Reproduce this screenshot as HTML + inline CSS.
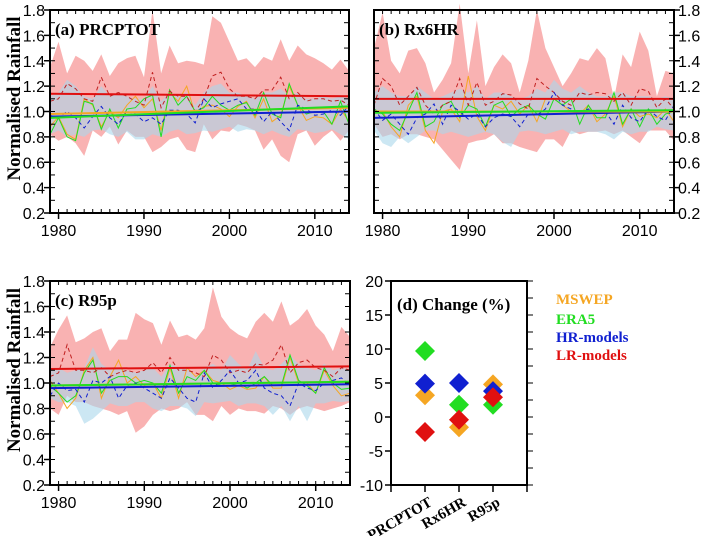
<!DOCTYPE html>
<html><head><meta charset="utf-8">
<style>
html,body{margin:0;padding:0;background:#fff;}
svg{display:block;}
.tk{font-family:"Liberation Sans",sans-serif;font-size:16px;fill:#000;}
.tt{font-family:"Liberation Serif",serif;font-weight:bold;font-size:17px;fill:#000;}
</style></head>
<body>
<svg id="chart" width="707" height="536" viewBox="0 0 707 536" xmlns="http://www.w3.org/2000/svg"></svg>
<script>
const years = [1979,1980,1981,1982,1983,1984,1985,1986,1987,1988,1989,1990,1991,1992,1993,1994,1995,1996,1997,1998,1999,2000,2001,2002,2003,2004,2005,2006,2007,2008,2009,2010,2011,2012,2013,2014];
const yTicks = [0.2,0.4,0.6,0.8,1.0,1.2,1.4,1.6,1.8];
const xTicks = [1980,1990,2000,2010];

// Panel a
const aRedUp = [1.35,1.55,1.30,1.44,1.40,1.32,1.45,1.28,1.38,1.42,1.44,1.27,1.80,1.30,1.52,1.38,1.40,1.39,1.37,1.75,1.70,1.55,1.40,1.42,1.35,1.43,1.40,1.57,1.40,1.52,1.45,1.42,1.38,1.33,1.41,1.32];
const aRedLo = [0.82,0.77,0.80,0.75,0.65,0.85,0.80,0.88,0.74,0.85,0.80,0.80,0.68,0.72,0.78,0.80,0.70,0.68,0.90,0.78,0.85,0.84,0.90,0.88,0.85,0.70,0.78,0.65,0.60,0.82,0.85,0.73,0.80,0.85,0.77,0.85];
const aBlueUp = [1.12,1.15,1.25,1.20,1.12,1.10,1.20,1.12,1.15,1.12,1.10,1.10,1.20,1.08,1.15,1.12,1.15,1.05,1.15,1.20,1.22,1.15,1.15,1.12,1.10,1.15,1.15,1.18,1.12,1.15,1.10,1.10,1.12,1.10,1.12,1.10];
const aBlueLo = [0.82,0.85,0.80,0.82,0.80,0.85,0.86,0.82,0.80,0.84,0.78,0.78,0.82,0.80,0.84,0.86,0.82,0.83,0.85,0.84,0.86,0.88,0.84,0.86,0.85,0.82,0.85,0.82,0.80,0.86,0.85,0.83,0.84,0.86,0.82,0.78];
const aRedDash = [1.08,1.10,1.22,1.18,1.10,1.08,1.27,1.12,1.15,1.12,1.08,1.05,1.31,1.03,1.16,1.12,1.12,1.00,1.10,1.28,1.31,1.18,1.12,1.12,1.10,1.17,1.17,1.27,1.10,1.15,1.08,1.10,1.10,1.08,1.09,1.05];
const aBlueDash = [0.97,0.95,1.00,0.95,0.87,0.96,1.04,0.95,0.90,1.00,0.98,0.92,0.95,0.90,1.01,1.01,0.98,0.91,1.10,1.03,1.06,1.08,1.10,1.02,1.02,0.92,1.00,0.92,0.85,1.05,1.02,0.97,0.98,1.01,0.97,1.05];
const aOrange = [0.88,0.96,0.82,0.78,1.10,1.05,0.88,1.00,0.95,1.05,1.12,1.03,1.10,0.85,1.15,1.08,1.20,0.98,1.04,1.05,1.02,0.96,1.04,1.08,0.95,1.10,0.92,0.97,1.20,1.05,0.93,0.96,0.95,0.90,1.02,0.92];
const aGreen = [0.82,0.95,0.80,0.77,1.08,1.06,0.86,1.02,0.87,1.02,1.03,1.10,1.13,0.80,1.17,1.05,1.12,1.00,1.03,1.12,1.05,1.01,1.05,1.07,0.97,1.15,0.98,0.95,1.22,1.05,0.98,1.00,1.00,0.90,1.08,0.90];
const aTrends = [[1.14,1.12],[0.96,1.00],[0.98,1.03],[0.95,1.04]];

// Panel b
const bRedUp = [1.50,1.78,1.40,1.30,1.48,1.50,1.38,1.15,1.25,1.38,1.85,1.30,1.72,1.20,1.35,1.45,1.38,1.15,1.40,1.80,1.50,1.35,1.20,1.30,1.42,1.40,1.50,1.42,1.10,1.45,1.35,1.63,1.48,1.12,1.32,1.30];
const bRedLo = [0.90,0.80,0.82,0.78,0.82,0.82,0.80,0.78,0.70,0.62,0.54,0.75,0.77,0.78,0.82,0.75,0.75,0.72,0.70,0.68,0.78,0.78,0.72,0.85,0.82,0.84,0.84,0.85,0.82,0.85,0.80,0.75,0.85,0.85,0.85,0.77];
const bBlueUp = [1.15,1.20,1.15,1.12,1.12,1.20,1.15,1.10,1.12,1.15,1.18,1.15,1.20,1.10,1.15,1.15,1.12,1.10,1.12,1.18,1.15,1.25,1.18,1.15,1.20,1.15,1.12,1.12,1.15,1.15,1.12,1.12,1.12,1.10,1.12,1.10];
const bBlueLo = [0.85,0.75,0.72,0.80,0.75,0.80,0.85,0.85,0.82,0.84,0.82,0.80,0.82,0.84,0.82,0.76,0.72,0.84,0.85,0.84,0.82,0.84,0.86,0.82,0.84,0.84,0.84,0.82,0.78,0.84,0.82,0.84,0.84,0.88,0.86,0.85];
const bRedDash = [1.05,1.26,1.20,1.05,1.12,1.19,1.05,0.98,1.05,1.08,1.26,1.05,1.23,1.05,1.08,1.14,1.13,1.06,1.02,1.26,1.20,1.15,1.08,1.05,1.15,1.13,1.15,1.14,1.08,1.15,1.05,1.18,1.16,1.03,1.10,1.02];
const bBlueDash = [1.02,0.93,0.98,0.90,0.82,0.95,0.98,1.06,0.90,1.05,1.00,0.94,0.98,0.88,0.95,0.98,0.96,0.88,0.98,0.97,1.02,1.15,1.05,1.02,0.98,1.02,0.98,1.00,0.90,1.05,0.95,0.92,1.02,0.96,0.93,1.05];
const bOrange = [1.00,1.00,0.88,0.80,1.05,1.12,0.85,0.75,1.00,1.02,0.92,1.28,0.96,0.85,1.05,1.02,1.08,0.98,1.05,0.92,1.10,1.10,1.05,1.00,0.98,1.05,0.92,0.98,1.12,0.88,1.02,0.96,0.98,0.95,1.02,0.92];
const bGreen = [1.02,0.98,0.90,0.85,1.00,1.15,0.88,0.92,1.05,1.08,0.95,1.05,1.02,0.88,1.05,1.08,0.96,1.02,1.05,0.98,0.94,1.10,1.05,1.10,0.90,1.05,0.95,0.95,1.15,0.90,1.02,0.88,1.02,0.90,0.98,1.00];
const bTrends = [[1.10,1.10],[0.95,1.00],[1.00,1.00],[0.99,1.01]];

// Panel c
const cRedUp = [1.28,1.42,1.53,1.32,1.35,1.40,1.43,1.25,1.34,1.34,1.55,1.50,1.47,1.30,1.49,1.36,1.38,1.34,1.43,1.75,1.52,1.43,1.38,1.35,1.48,1.55,1.48,1.64,1.45,1.50,1.58,1.45,1.38,1.25,1.44,1.36];
const cRedLo = [0.80,0.75,0.90,0.85,0.85,0.82,0.80,0.78,0.75,0.78,0.61,0.66,0.75,0.80,0.78,0.80,0.85,0.75,0.75,0.70,0.82,0.75,0.80,0.78,0.78,0.76,0.82,0.80,0.75,0.80,0.82,0.80,0.78,0.80,0.82,0.85];
const cBlueUp = [1.10,1.12,1.08,1.10,1.12,1.28,1.15,1.10,1.12,1.10,1.08,1.10,1.12,1.05,1.15,1.12,1.12,1.05,1.12,1.15,1.10,1.22,1.15,1.10,1.25,1.12,1.10,1.15,1.22,1.15,1.12,1.10,1.15,1.10,1.12,1.10];
const cBlueLo = [0.88,0.85,0.85,0.82,0.68,0.72,0.78,0.84,0.82,0.82,0.85,0.85,0.80,0.78,0.82,0.82,0.80,0.74,0.85,0.84,0.85,0.86,0.82,0.84,0.84,0.82,0.75,0.82,0.70,0.82,0.70,0.84,0.84,0.86,0.85,0.86];
const cRedDash = [1.05,1.08,1.30,1.10,1.10,1.08,1.12,1.05,1.08,1.10,1.08,1.10,1.16,1.08,1.20,1.10,1.10,1.08,1.05,1.22,1.18,1.08,1.10,1.08,1.15,1.14,1.18,1.30,1.08,1.16,1.18,1.12,1.10,1.05,1.12,1.10];
const cBlueDash = [0.90,1.00,0.94,0.95,0.85,1.02,1.00,1.05,0.88,0.98,1.00,0.96,0.92,0.88,1.04,0.96,0.88,0.85,1.08,0.96,1.02,1.10,1.00,1.02,1.10,0.96,0.92,0.90,0.82,1.00,0.96,0.94,1.00,1.02,1.04,0.98];
const cOrange = [1.02,0.92,0.80,0.88,1.10,1.20,0.88,1.05,1.18,1.00,1.05,0.98,1.00,0.88,1.12,0.88,1.12,1.05,1.10,1.02,1.00,0.95,0.98,0.95,0.96,1.05,0.96,0.96,1.20,1.00,1.00,0.92,1.10,0.98,0.90,0.92];
const cGreen = [0.98,0.92,0.85,0.90,1.08,1.18,0.92,1.02,1.05,1.05,1.00,1.02,1.00,0.92,1.14,0.92,1.05,1.02,1.10,1.00,0.98,0.98,1.00,0.96,1.00,1.05,0.98,0.98,1.22,1.02,0.98,0.92,1.12,1.00,0.95,0.96];
const cTrends = [[1.11,1.13],[0.96,0.99],[0.98,1.01],[0.98,1.01]];

// Panel d
const dCategories = ["PRCPTOT","Rx6HR","R95p"];
const dSeriesNames = ["MSWEP","ERA5","HR-models","LR-models"];
const dMSWEP = [3.2,-1.5,4.8];
const dERA5 = [9.7,1.8,1.8];
const dHR = [4.9,5.0,3.8];
const dLR = [-2.2,-0.4,2.9];
const dYTicks = [-10,-5,0,5,10,15,20];

const NS = "http://www.w3.org/2000/svg";
const svg = document.getElementById("chart");
function mk(tag, attrs, parent){
  const e = document.createElementNS(NS, tag);
  for (const k in attrs) e.setAttribute(k, attrs[k]);
  (parent||svg).appendChild(e);
  return e;
}
const seriesColors = ["#f5a623","#22dd22","#1020d0","#e01010"];

function timePanel(opt){
  const g = mk("g", {});
  
  
  const L=opt.x0,R=opt.x1,T=opt.y0,B=opt.y1;
  const X = yr => L + (yr-1979)/(2014-1979)*(R-L);
  const Y = v => B - (v-0.2)/(1.6)*(B-T);
  function band(up, lo, fill, nm){
    let d = "M"+years.map((y,i)=>X(y).toFixed(1)+","+Y(up[i]).toFixed(1)).join("L");
    for (let i=years.length-1;i>=0;i--) d += "L"+X(years[i]).toFixed(1)+","+Y(lo[i]).toFixed(1);
    const p = mk("path",{d:d+"Z",fill:fill},g);
    
    
  }
  function line(vals, col, dash, nm, w){
    const p = mk("polyline",{points:years.map((y,i)=>X(y).toFixed(1)+","+Y(vals[i]).toFixed(1)).join(" "),fill:"none",stroke:col,"stroke-width":w||1,"stroke-dasharray":dash||"none"},g);
    
    
  }
  band(opt.redUp, opt.redLo, "#f9b2b2", "lr-models-range");
  band(opt.blueUp, opt.blueLo, "rgba(170,215,235,0.6)", "hr-models-range");
  line(opt.orange, "#f5a623", "", "mswep-series", 1);
  line(opt.green, "#22dd22", "", "era5-series", 1);
  line(opt.redDash, "#c02020", "4,3", "lr-models-mean", 1);
  line(opt.blueDash, "#1020d0", "4,3", "hr-models-mean", 1);
  const tcols = ["#e01010","#1020d0","#f5a623","#22dd22"];
  const tnames = ["lr-trend","hr-trend","mswep-trend","era5-trend"];
  opt.trends.forEach((t,i)=>{
    const l = mk("line",{x1:X(1979),y1:Y(t[0]),x2:X(2014),y2:Y(t[1]),stroke:tcols[i],"stroke-width":2},g);
    
    
  });
  for (let v=0.2; v<=1.8001; v+=0.1){
    const y=Y(v);
    mk("line",{x1:L,x2:L+5,y1:y,y2:y,stroke:"#000","stroke-width":1},g);
    mk("line",{x1:R,x2:R-5,y1:y,y2:y,stroke:"#000","stroke-width":1},g);
  }
  for (let yr=1979; yr<=2014; yr++){
    const x=X(yr);
    mk("line",{x1:x,x2:x,y1:B,y2:B-4,stroke:"#000","stroke-width":1},g);
    mk("line",{x1:x,x2:x,y1:T,y2:T+4,stroke:"#000","stroke-width":1},g);
  }
  const fr = mk("rect",{x:L,y:T,width:R-L,height:B-T,fill:"none",stroke:"#000","stroke-width":2},g);
  
  
  yTicks.forEach(v=>{
    const y=Y(v);
    if (opt.rightAxis){
      mk("line",{x1:R,x2:R+6,y1:y,y2:y,stroke:"#000","stroke-width":1.5},g);
      const t=mk("text",{x:R+4,y:y+6,class:"tk","text-anchor":"start"},g);
      t.textContent=v.toFixed(1);
      
      
    } else {
      mk("line",{x1:L-6,x2:L,y1:y,y2:y,stroke:"#000","stroke-width":1.5},g);
      const t=mk("text",{x:L-5,y:y+6,class:"tk","text-anchor":"end"},g);
      t.textContent=v.toFixed(1);
      
      
    }
  });
  xTicks.forEach(v=>{
    const x=X(v);
    mk("line",{x1:x,x2:x,y1:B,y2:B+6,stroke:"#000","stroke-width":1.5},g);
    const t=mk("text",{x:x,y:B+23,class:"tk","text-anchor":"middle"},g);
    t.textContent=v;
    
    
  });
  const ti=mk("text",{x:L+5,y:T+25,class:"tt"},g);
  ti.textContent=opt.title;
  
  
  if (opt.yTitle){
    const yt=mk("text",{x:0,y:0,class:"tt","text-anchor":"middle",style:"font-size:19px",transform:"translate(20,"+((T+B)/2-13)+") rotate(-90)"},g);
    yt.textContent="Normalised Rainfall";
    
    
  }
}

timePanel({name:"panel-a-prcptot",x0:50,x1:349,y0:10,y1:213,title:"(a) PRCPTOT",yTitle:true,
  redUp:aRedUp,redLo:aRedLo,blueUp:aBlueUp,blueLo:aBlueLo,redDash:aRedDash,blueDash:aBlueDash,orange:aOrange,green:aGreen,trends:aTrends});
timePanel({name:"panel-b-rx6hr",x0:374,x1:674,y0:10,y1:213,title:"(b) Rx6HR",rightAxis:true,
  redUp:bRedUp,redLo:bRedLo,blueUp:bBlueUp,blueLo:bBlueLo,redDash:bRedDash,blueDash:bBlueDash,orange:bOrange,green:bGreen,trends:bTrends});
timePanel({name:"panel-c-r95p",x0:50,x1:350,y0:281,y1:485,title:"(c) R95p",yTitle:true,
  redUp:cRedUp,redLo:cRedLo,blueUp:cBlueUp,blueLo:cBlueLo,redDash:cRedDash,blueDash:cBlueDash,orange:cOrange,green:cGreen,trends:cTrends});

(function(){
  const g = mk("g",{});
  
  
  const L=391,R=527,T=281,B=485;
  const X = i => L + (i+1)/4*(R-L);
  const Y = v => B - (v+10)/30*(B-T);
  for (let v=-10; v<=20; v+=2.5){
    const y=Y(v);
    mk("line",{x1:R,x2:R+6,y1:y,y2:y,stroke:"#000","stroke-width":1},g);
  }
  const fr = mk("rect",{x:L,y:T,width:R-L,height:B-T,fill:"none",stroke:"#000","stroke-width":2},g);
  
  
  dYTicks.forEach(v=>{
    const y=Y(v);
    mk("line",{x1:L-6,x2:L,y1:y,y2:y,stroke:"#000","stroke-width":1.5},g);
    const t=mk("text",{x:L-8,y:y+6,class:"tk","text-anchor":"end"},g);
    t.textContent=v;
    
    
  });
  for (let i=-1;i<=3;i++){
    const x=X(i);
    mk("line",{x1:x,x2:x,y1:B,y2:B+7,stroke:"#000","stroke-width":1.5},g);
  }
  dCategories.forEach((c,i)=>{
    const x=X(i);
    const t=mk("text",{x:0,y:0,class:"tt","text-anchor":"end",transform:"translate("+(x+8)+","+(B+20)+") rotate(-30)"},g);
    t.setAttribute("style","font-size:15px");
    t.textContent=c;
    
    
  });
  const t0=mk("text",{x:L+6,y:T+29,class:"tt"},g);
  t0.textContent="(d) Change (%)";
  
  
  const series=[dMSWEP,dERA5,dHR,dLR];
  series.forEach((vals,s)=>{
    vals.forEach((v,i)=>{
      const x=X(i), y=Y(v), h=10;
      const p=mk("polygon",{points:`${x},${y-h} ${x+h},${y} ${x},${y+h} ${x-h},${y}`,fill:seriesColors[s]},g);
      
      
    });
  });
  const legY=[304,324,342,360];
  dSeriesNames.forEach((n,s)=>{
    const t=mk("text",{x:556,y:legY[s],class:"tt"},g);
    t.setAttribute("style","font-size:15px;fill:"+seriesColors[s]);
    t.textContent=n;
    
    
  });
})();
</script>
</body></html>
